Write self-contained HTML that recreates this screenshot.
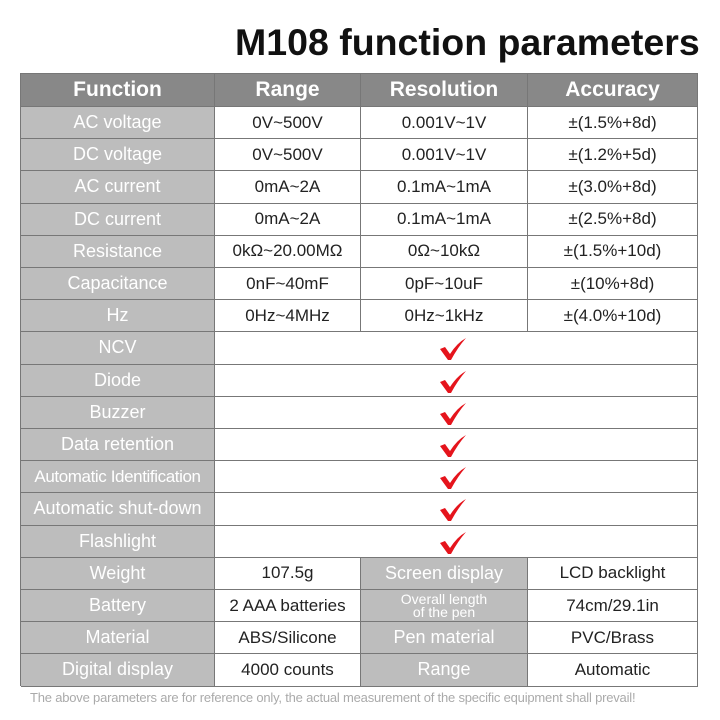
<!DOCTYPE html>
<html><head><meta charset="utf-8"><style>
body{margin:0;width:720px;height:720px;background:#fff;position:relative;font-family:"Liberation Sans",sans-serif;overflow:hidden}
.t{position:absolute;left:235px;top:21px;font-size:37.5px;font-weight:bold;color:#111;letter-spacing:0px}
.c{position:absolute;box-sizing:border-box;display:flex;align-items:center;justify-content:center;text-align:center;font-size:17px;color:#222;border-right:1.5px solid #777;border-bottom:1.5px solid #777}
.h{background:#888;color:#fff;font-size:21px;font-weight:bold}
.g{background:#bdbdbd;color:#fff;font-size:18px}
.w{background:#fff}
.ck{position:absolute;left:438px;width:30px;height:26px}
.f{position:absolute;left:30px;top:690px;font-size:13px;color:#aaa;letter-spacing:-0.2px}
</style></head><body>
<div class="t">M108 function parameters</div>
<div id="tb"></div>
<div class="f">The above parameters are for reference only, the actual measurement of the specific equipment shall prevail!</div>
<script>
var X=[21,215,361,528,698];
var H=["Function","Range","Resolution","Accuracy"];
var rows=[
["AC voltage","0V~500V","0.001V~1V","±(1.5%+8d)"],
["DC voltage","0V~500V","0.001V~1V","±(1.2%+5d)"],
["AC current","0mA~2A","0.1mA~1mA","±(3.0%+8d)"],
["DC current","0mA~2A","0.1mA~1mA","±(2.5%+8d)"],
["Resistance","0kΩ~20.00MΩ","0Ω~10kΩ","±(1.5%+10d)"],
["Capacitance","0nF~40mF","0pF~10uF","±(10%+8d)"],
["Hz","0Hz~4MHz","0Hz~1kHz","±(4.0%+10d)"],
["NCV"],["Diode"],["Buzzer"],["Data retention"],["Automatic Identification"],["Automatic shut-down"],["Flashlight"],
["Weight","107.5g","*Screen display","LCD backlight"],
["Battery","2 AAA batteries","*Overall length<br>of the pen","74cm/29.1in"],
["Material","ABS/Silicone","*Pen material","PVC/Brass"],
["Digital display","4000 counts","*Range","Automatic"]];
var s='<div style="position:absolute;left:20px;top:73px;width:678px;height:613px;border-left:1.5px solid #777;border-top:1.5px solid #777;box-sizing:border-box"></div>';
function cell(x0,x1,y,h,cls,txt,st){return '<div class="c '+cls+'" style="left:'+x0+'px;top:'+y+'px;width:'+(x1-x0)+'px;height:'+h+'px;'+(st||'')+'">'+txt+'</div>';}
for(var i=0;i<4;i++)s+=cell(X[i],X[i+1],74,33,'h',H[i]);
var rh=32.2;
for(var r=0;r<rows.length;r++){
 var y=107+r*rh,R=rows[r];
 s+=cell(X[0],X[1],y,rh,'g',R[0],R[0].length>20?'font-size:17px;letter-spacing:-0.4px':'');
 if(R.length==1){
  s+=cell(X[1],X[4],y,rh,'w','');
  s+='<svg class="ck" style="top:'+(y+4)+'px" viewBox="0 0 30 26"><path d="M2 13 L7 11 L12 18 Q19 7 28 2 Q20 11 13 24 L10 24 Z" fill="#e5141c"/></svg>';
 }else{
  for(var k=1;k<4;k++){
   var t=R[k];
   if(t[0]=='*'){t=t.slice(1);s+=cell(X[k],X[k+1],y,rh,'g',t,t.indexOf('<br>')>0?'font-size:14px;line-height:13px':'');}
   else s+=cell(X[k],X[k+1],y,rh,'w',t);
  }
 }
}
document.getElementById('tb').innerHTML=s;
</script>
</body></html>
